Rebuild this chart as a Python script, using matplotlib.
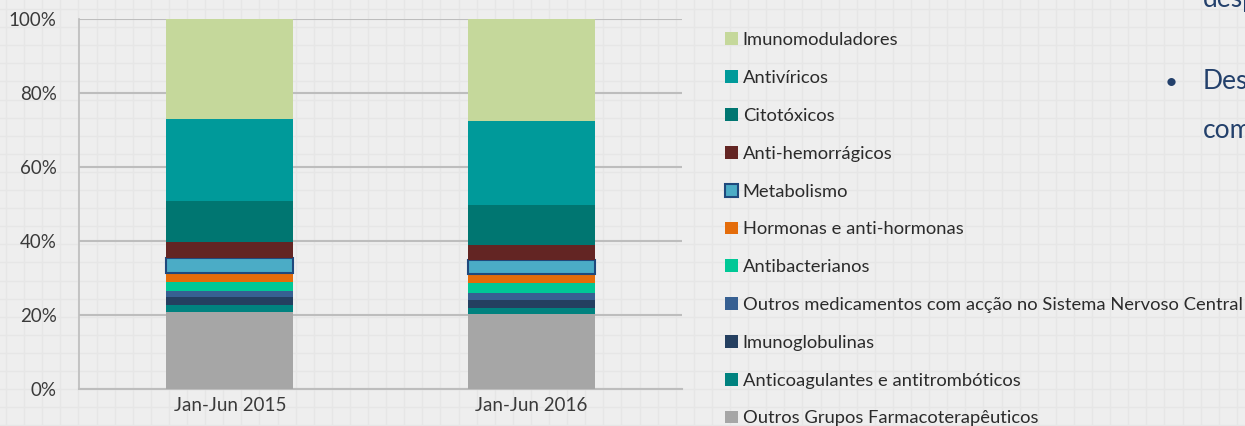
import numpy as np
import matplotlib
matplotlib.use("Agg")
from matplotlib import pyplot as plt

plt.rcParams['font.family'] = ['Lato', 'DejaVu Sans']

periods = ["Jan-Jun 2015", "Jan-Jun 2016"]

# groups bottom -> top, shares in %
groups = [
    "Outros Grupos Farmacoterapêuticos",
    "Anticoagulantes e antitrombóticos",
    "Imunoglobulinas",
    "Outros medicamentos com acção no Sistema Nervoso Central",
    "Antibacterianos",
    "Hormonas e anti-hormonas",
    "Metabolismo",
    "Anti-hemorrágicos",
    "Citotóxicos",
    "Antivíricos",
    "Imunomoduladores",
]
share_2015 = [20.9, 1.8, 2.1, 1.7, 2.3, 2.6, 3.9, 4.3, 11.2, 22.2, 27.0]
share_2016 = [20.2, 1.8, 2.05, 1.95, 2.6, 2.4, 3.9, 4.0, 10.8, 22.7, 27.6]

colors = ["#a6a6a6", "#00827f", "#243f60", "#376092", "#00c896", "#e46c0a",
          "#4bacc6", "#632523", "#007671", "#009a9a", "#c5d89b"]

W, H = 1245, 426
fig = plt.figure(figsize=(W / 100, H / 100), dpi=100)
fig.patch.set_facecolor("#eeeeee")

# slide background grid
bg = fig.add_axes([0, 0, 1, 1], zorder=-5)
bg.set_xlim(0, W)
bg.set_ylim(H, 0)
bg.axis("off")
for x in np.arange(6, W, 18.1):
    bg.axvline(x, color="#e6e6e6", lw=1.0)
for y in np.arange(9, H, 18.1):
    bg.axhline(y, color="#e6e6e6", lw=1.0)

ax = fig.add_axes([79 / W, 37 / H, 603 / W, 370 / H])
ax.set_facecolor("none")

data = np.array([share_2015, share_2016])
x = np.arange(len(periods))
bottom = np.zeros(len(periods))
bars = []
for i, name in enumerate(groups):
    vals = data[:, i]
    ec = "#1f497d" if name == "Metabolismo" else "none"
    lw = 1.5 if name == "Metabolismo" else 0
    b = ax.bar(x, vals, bottom=bottom, width=0.42, color=colors[i],
               edgecolor=ec, linewidth=lw, label=name, zorder=3)
    bars.append(b)
    bottom += vals

ax.set_xlim(-0.5, 1.5)
ax.set_ylim(0, 100)
ax.set_yticks([0, 20, 40, 60, 80, 100])
ax.set_yticklabels([f"{v}%" for v in range(0, 101, 20)])
ax.set_xticks(x)
ax.set_xticklabels(periods)
ax.tick_params(length=0, labelsize=13.5, colors="#3a3a3a")
ax.tick_params(axis="y", pad=16)
ax.tick_params(axis="x", pad=6)
ax.yaxis.grid(True, color="#bdbdbd", lw=1.5, zorder=0)
for s in ["top", "right"]:
    ax.spines[s].set_visible(False)
ax.spines["left"].set_color("#bdbdbd")
ax.spines["bottom"].set_color("#bdbdbd")
ax.spines["left"].set_linewidth(1.2)
ax.spines["bottom"].set_linewidth(1.5)

handles = bars[::-1]
leg = fig.legend(handles, groups[::-1], loc="upper left",
                 bbox_to_anchor=(718 / W, 1 - 25 / H), frameon=False,
                 fontsize=13.2, handlelength=0.7, handleheight=0.7,
                 handletextpad=0.25, labelspacing=1.19, borderaxespad=0)
for t in leg.get_texts():
    t.set_color("#2b2b2b")

# fragments of slide text on the right
tc = "#23406b"
fig.text(1203 / W, 1 - 7 / H, "desp", color=tc, fontsize=19, va="baseline")
fig.text(1171 / W, 1 - 89 / H, "•", color=tc, fontsize=16, va="baseline",
         ha="center")
fig.text(1203 / W, 1 - 89 / H, "Des", color=tc, fontsize=19, va="baseline")
fig.text(1203 / W, 1 - 138 / H, "com", color=tc, fontsize=19, va="baseline")

fig.savefig("out.png", dpi=100, facecolor=fig.get_facecolor())
